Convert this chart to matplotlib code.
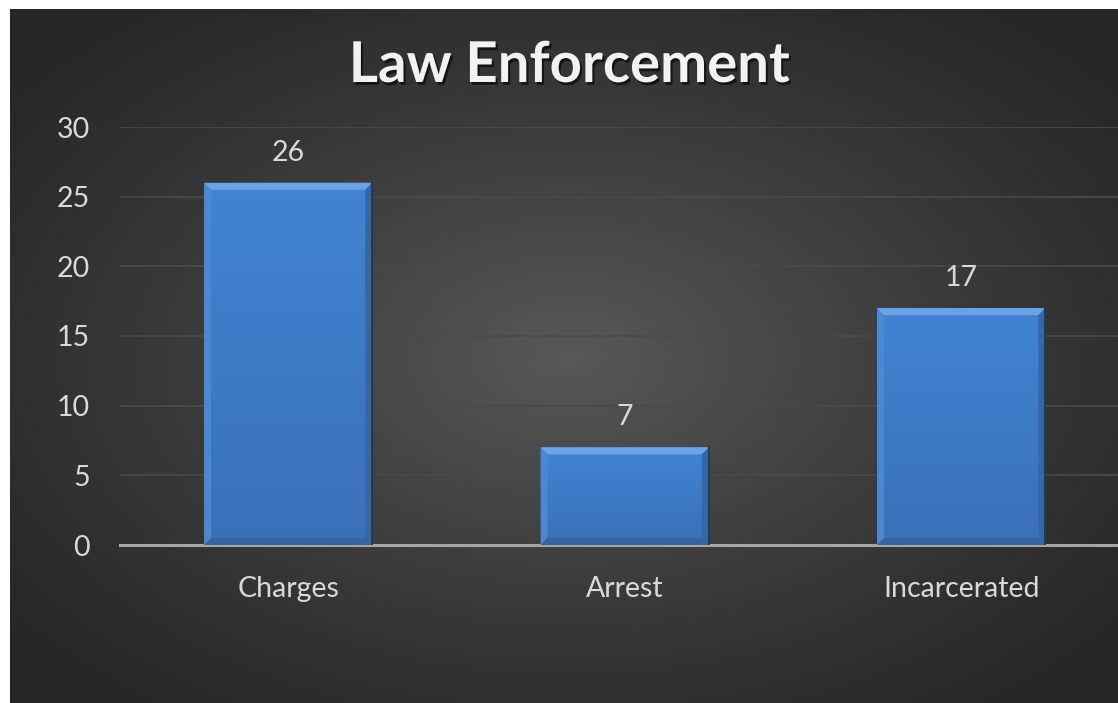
import numpy as np
import matplotlib
matplotlib.use("Agg")
import matplotlib.pyplot as plt
from matplotlib.patches import Polygon
from matplotlib.colors import LinearSegmentedColormap
import matplotlib.patheffects as pe

categories = ["Charges", "Arrest", "Incarcerated"]
values = [26, 7, 17]
y_ticks = [0, 5, 10, 15, 20, 25, 30]
title = "Law Enforcement"

W, H = 1118, 703
fig = plt.figure(figsize=(W / 100, H / 100), dpi=100)
fig.patch.set_facecolor("white")

# dark chart panel with a soft radial glow
bg = fig.add_axes([10 / W, 0, 1.0, 694 / H])
bg.set_axis_off()
ny, nx = 350, 560
yy, xx = np.mgrid[0:ny, 0:nx]
cx, cy = 0.50 * nx, 0.50 * ny
r = np.sqrt(((xx - cx) / (0.66 * nx)) ** 2 + ((yy - cy) / (0.66 * ny)) ** 2)
r = np.clip(r, 0, 1)
dark, light = 0x26 / 255, 0x58 / 255
lum = dark + (light - dark) * (1 - r) ** 1.2
bg.imshow(np.dstack([lum, lum, lum]), extent=[0, 1, 0, 1], aspect="auto", origin="upper")
bg.set_xlim(0, 1)
bg.set_ylim(0, 1)

ax = fig.add_axes([120 / W, 158 / H, 1009.5 / W, 418 / H])
ax.patch.set_alpha(0)
x = np.arange(len(categories))
bar_w = 0.5
bars = ax.bar(x, values, width=bar_w, color="#3f7bc8", zorder=3)

ax.set_xlim(-0.5, len(categories) - 0.5)
ax.set_ylim(0, 30)
ax.set_yticks(y_ticks)
ax.set_xticks(x)
ax.set_xticklabels(categories)
for s in ax.spines.values():
    s.set_visible(False)
ax.tick_params(axis="both", length=0, colors="#d9d9d9", labelsize=20.5)
ax.tick_params(axis="y", pad=21.5)
ax.tick_params(axis="x", pad=22)
for lab in ax.get_xticklabels() + ax.get_yticklabels():
    lab.set_fontfamily("Lato")
ax.grid(axis="y", color="#4a4a4a", linewidth=1.2, zorder=0)
ax.set_axisbelow(True)
ax.axhline(0, color="#a6a6a6", linewidth=2.2, zorder=4, clip_on=False)

# bevelled bars: vertical gradient body with highlight and shadow edges
grad = np.linspace(0, 1, 256).reshape(-1, 1)
cmap = LinearSegmentedColormap.from_list("bar", ["#4184d4", "#3a70b8"])
px_x = 1009.5 / len(categories)
px_y = 418 / 30
bev = 7
for b in bars:
    x0, w, h = b.get_x(), b.get_width(), b.get_height()
    im = ax.imshow(grad, extent=[x0, x0 + w, 0, h], origin="upper", aspect="auto",
                   cmap=cmap, zorder=3)
    im.set_clip_path(b)
    dx, dy = bev / px_x, bev / px_y
    top = Polygon([[x0, h], [x0 + w, h], [x0 + w - dx, h - dy], [x0 + dx, h - dy]],
                  closed=True, color="#6aa4e6", zorder=4, lw=0)
    left = Polygon([[x0, h], [x0 + dx, h - dy], [x0 + dx, dy], [x0, 0]],
                   closed=True, color="#4a88d2", zorder=4, lw=0)
    right = Polygon([[x0 + w, h], [x0 + w - dx, h - dy], [x0 + w - dx, dy], [x0 + w, 0]],
                    closed=True, color="#3566a6", zorder=4, lw=0)
    bottom = Polygon([[x0, 0], [x0 + dx, dy], [x0 + w - dx, dy], [x0 + w, 0]],
                     closed=True, color="#35649f", zorder=4, lw=0)
    for p in (top, left, right, bottom):
        ax.add_patch(p)
    ax.plot([x0 + w, x0 + w], [0, h], color="#1f2f45", lw=1.2, zorder=4)
    ax.text(x0 + w / 2, h + 30 / px_y, f"{h:g}", ha="center", va="center",
            color="#d9d9d9", fontsize=20.5, family="Lato", zorder=5)

fig.text(569 / W, 1 - 66 / H, title, ha="center", va="center", color="#f2f2f2",
         fontsize=40.5, fontweight="bold", family="Lato",
         path_effects=[pe.withSimplePatchShadow(offset=(1.5, -2), shadow_rgbFace="black", alpha=0.6)])

fig.savefig("out.png", dpi=100, facecolor=fig.get_facecolor())
